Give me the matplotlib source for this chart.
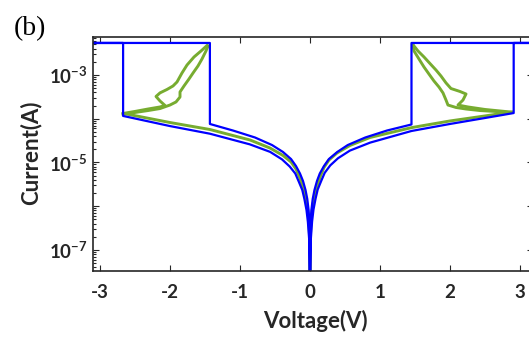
import numpy as np
import matplotlib
matplotlib.use("Agg")
import matplotlib.pyplot as plt
from matplotlib.ticker import FixedLocator, LogLocator, NullFormatter, FuncFormatter

plt.rcParams["font.family"] = ["Lato", "DejaVu Sans"]
plt.rcParams["axes.unicode_minus"] = False
plt.rcParams["mathtext.fontset"] = "custom"
plt.rcParams["mathtext.rm"] = "Lato"
plt.rcParams["mathtext.bf"] = "Lato:bold"

# compliance current (A) and sweep end (V)
I_CC = 5.4e-3
V_SWEEP = 3.2

# ---- blue curve, negative side ----
# upper branch: 0 V -> set point
blue_up_neg_v = [0, -0.003, -0.0086, -0.02, -0.039, -0.064, -0.10, -0.143, -0.20,
                 -0.271, -0.386, -0.543, -0.786, -1.10, -1.43]
blue_up_neg_i = [1e-8, 1.69e-7, 4.36e-7, 8.2e-7, 1.47e-6, 2.35e-6, 3.78e-6, 5.6e-6, 8.3e-6,
                 1.2e-5, 1.74e-5, 2.51e-5, 3.73e-5, 5.38e-5, 7.6e-5]
# lower branch: reset point -> 0 V
blue_lo_neg_v = [-2.67, -2.0, -1.43, -0.86, -0.57, -0.40, -0.29, -0.21, -0.16,
                 -0.11, -0.08, -0.05, -0.03, -0.011, 0]
blue_lo_neg_i = [1.16e-4, 6.8e-5, 4.55e-5, 2.6e-5, 1.75e-5, 1.18e-5, 8.1e-6, 5.6e-6, 3.65e-6,
                 2.35e-6, 1.47e-6, 8.2e-7, 4.36e-7, 1.69e-7, 1e-8]

# ---- blue curve, positive side ----
blue_up_pos_v = [0, 0.003, 0.0086, 0.02, 0.039, 0.064, 0.10, 0.14, 0.20,
                 0.27, 0.39, 0.54, 0.79, 1.10, 1.45]
blue_up_pos_i = [1e-8, 1.69e-7, 4.36e-7, 8.2e-7, 1.47e-6, 2.35e-6, 3.78e-6, 5.6e-6, 8.3e-6,
                 1.2e-5, 1.74e-5, 2.51e-5, 3.73e-5, 5.38e-5, 7.4e-5]
blue_lo_pos_v = [2.91, 2.5, 2.0, 1.45, 0.86, 0.57, 0.40, 0.29, 0.21,
                 0.16, 0.11, 0.08, 0.05, 0.03, 0.011, 0]
blue_lo_pos_i = [1.35e-4, 1.04e-4, 7.6e-5, 5.25e-5, 2.85e-5, 1.87e-5, 1.25e-5, 8.6e-6, 5.8e-6,
                 3.78e-6, 2.41e-6, 1.5e-6, 8.4e-7, 4.48e-7, 1.69e-7, 1e-8]

# ---- green curve ----
green_lo_neg_v = [-2.66, -2.0, -1.43, -0.857, -0.571, -0.386, -0.271, -0.20, -0.15,
                  -0.107, -0.071, -0.043, -0.021, -0.007, 0]
green_lo_neg_i = [1.32e-4, 8.2e-5, 5.68e-5, 3.27e-5, 2.14e-5, 1.45e-5, 1.03e-5, 7.1e-6, 4.67e-6,
                  2.9e-6, 1.81e-6, 1.04e-6, 5.7e-7, 2.2e-7, 1e-8]
green_lo_pos_v = [2.886, 2.5, 2.0, 1.457, 0.857, 0.571, 0.386, 0.271, 0.20,
                  0.15, 0.107, 0.071, 0.043, 0.021, 0.007, 0]
green_lo_pos_i = [1.43e-4, 1.16e-4, 8.9e-5, 6.3e-5, 3.73e-5, 2.45e-5, 1.65e-5, 1.14e-5, 7.7e-6,
                  4.91e-6, 3.06e-6, 1.9e-6, 1.1e-6, 6.0e-7, 2.32e-7, 1e-8]

# gradual set/reset loop, negative side
green_loop_neg_a_v = [-2.671, -2.5, -2.314, -2.143, -2.071, -2.143, -2.2, -2.143, -2.043,
                      -1.957, -1.9, -1.829, -1.757, -1.657, -1.557, -1.471]
green_loop_neg_a_i = [1.32e-4, 1.47e-4, 1.67e-4, 1.86e-4, 2.01e-4, 2.55e-4, 3.23e-4, 3.9e-4, 4.67e-4,
                      5.61e-4, 6.92e-4, 1.11e-3, 1.69e-3, 2.58e-3, 3.54e-3, 4.72e-3]
green_loop_neg_b_v = [-1.457, -1.486, -1.543, -1.6, -1.671, -1.729, -1.8, -1.857, -1.857,
                      -1.914, -2.0, -2.143, -2.314, -2.5, -2.671]
green_loop_neg_b_i = [4.6e-3, 3.54e-3, 2.32e-3, 1.61e-3, 1.11e-3, 8.1e-4, 5.61e-4, 4.1e-4, 3.14e-4,
                      2.42e-4, 2.06e-4, 1.71e-4, 1.54e-4, 1.39e-4, 1.28e-4]

# gradual set/reset loop, positive side
green_loop_pos_a_v = [1.471, 1.486, 1.557, 1.629, 1.7, 1.771, 1.843, 1.9, 1.943,
                      1.971, 2.086, 2.229, 2.429, 2.643, 2.857]
green_loop_pos_a_i = [4.85e-3, 3.54e-3, 2.32e-3, 1.52e-3, 1.05e-3, 7.3e-4, 5.3e-4, 3.9e-4, 2.68e-4,
                      2.06e-4, 1.81e-4, 1.67e-4, 1.54e-4, 1.47e-4, 1.39e-4]
green_loop_pos_b_v = [1.486, 1.543, 1.629, 1.714, 1.8, 1.871, 1.943, 2.014, 2.143,
                      2.229, 2.186, 2.114, 2.257, 2.5, 2.857]
green_loop_pos_b_i = [4.6e-3, 3.54e-3, 2.58e-3, 1.83e-3, 1.3e-3, 9.5e-4, 6.6e-4, 4.91e-4, 4.2e-4,
                      3.68e-4, 2.68e-4, 2.06e-4, 1.86e-4, 1.63e-4, 1.43e-4]

x_ticks = [-3, -2, -1, 0, 1, 2, 3]
y_decades = [-7, -6, -5, -4, -3, -2]
y_labelled = [-7, -5, -3]

BLUE = "#0000ff"
GREEN = "#77ac30"
AX_C = "#262626"


def blue_path(up_v, up_i, lo_v, lo_i, sign):
    v = list(up_v) + [up_v[-1], sign * V_SWEEP, lo_v[0]] + list(lo_v)
    i = list(up_i) + [I_CC, I_CC, I_CC] + list(lo_i)
    return v, i


fig = plt.figure(figsize=(5.29, 3.40), dpi=100)
ax = fig.add_axes([93 / 529, 69 / 340, 440 / 529, 234 / 340])

for v, i in [
    (green_loop_neg_a_v, green_loop_neg_a_i),
    (green_loop_neg_b_v, green_loop_neg_b_i),
    (green_loop_pos_a_v, green_loop_pos_a_i),
    (green_loop_pos_b_v, green_loop_pos_b_i),
    (green_lo_neg_v, green_lo_neg_i),
    (green_lo_pos_v, green_lo_pos_i),
]:
    ax.plot(v, i, color=GREEN, lw=2.1)

for up_v, up_i, lo_v, lo_i, s in [
    (blue_up_neg_v, blue_up_neg_i, blue_lo_neg_v, blue_lo_neg_i, -1),
    (blue_up_pos_v, blue_up_pos_i, blue_lo_pos_v, blue_lo_pos_i, 1),
]:
    v, i = blue_path(up_v, up_i, lo_v, lo_i, s)
    ax.plot(v, i, color=BLUE, lw=1.6)

ax.set_yscale("log")
ax.set_xlim(-3.1, 3.186)
ax.set_ylim(3.31e-8, 7.39e-3)

ax.set_xticks(x_ticks)
ax.set_xticklabels([str(t) for t in x_ticks], fontweight="bold")
ax.yaxis.set_major_locator(FixedLocator([10.0 ** e for e in y_decades]))
ax.yaxis.set_minor_locator(LogLocator(base=10, subs=np.arange(2, 10)))
ax.yaxis.set_minor_formatter(NullFormatter())


def ylab(y, pos):
    e = int(round(np.log10(y)))
    return rf"$\mathbf{{10^{{{e}}}}}$" if e in y_labelled else ""


ax.yaxis.set_major_formatter(FuncFormatter(ylab))

ax.tick_params(which="both", direction="in", top=True, right=True,
               colors=AX_C, width=0.8, labelsize=13.5)
ax.tick_params(which="major", length=4)
ax.tick_params(which="minor", length=2)
ax.tick_params(axis="x", pad=9)
ax.tick_params(axis="y", pad=4)
for sp in ax.spines.values():
    sp.set_color(AX_C)
    sp.set_linewidth(1.2)

ax.set_xlabel("Voltage(V)", fontsize=16, fontweight="bold", color=AX_C)
ax.set_ylabel("Current(A)", fontsize=16, fontweight="bold", color=AX_C)
ax.xaxis.set_label_coords(0.505, -0.168)
ax.yaxis.set_label_coords(-0.118, 0.504)

fig.text(14 / 529, 1 - 35 / 340, "(b)", family=["Liberation Serif", "DejaVu Serif"],
         fontsize=20, ha="left", va="baseline", color="black")

fig.savefig("out.png", dpi=100)
